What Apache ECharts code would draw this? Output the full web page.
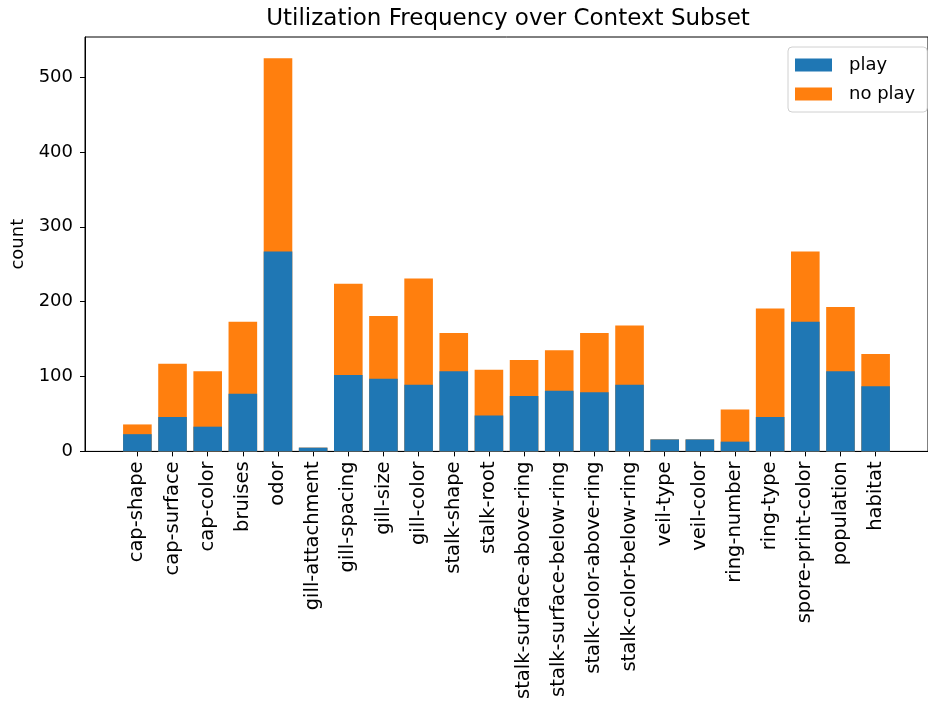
<!DOCTYPE html>
<html>
<head>
<meta charset="utf-8">
<script src="https://cdn.jsdelivr.net/npm/echarts@6/dist/echarts.min.js"></script>
<style>html,body{margin:0;padding:0;background:#fff;}#c{width:928px;height:702px;}</style>
</head>
<body>
<div id="c"></div>
<script>
var categories = ['cap-shape','cap-surface','cap-color','bruises','odor','gill-attachment','gill-spacing','gill-size','gill-color','stalk-shape','stalk-root','stalk-surface-above-ring','stalk-surface-below-ring','stalk-color-above-ring','stalk-color-below-ring','veil-type','veil-color','ring-number','ring-type','spore-print-color','population','habitat'];
var play =   [23, 46, 33, 77, 267, 5, 102, 97, 89, 107, 48, 74, 81, 79, 89, 16, 16, 13, 46, 173, 107, 87];
var noPlay = [13, 71, 74, 96, 258, 0, 122, 84, 142, 51, 61, 48, 54, 79, 79, 0, 0, 43, 145, 94, 86, 43];
var yTicks = [0, 100, 200, 300, 400, 500];

var idx = categories.map(function (c, i) { return i; });
// "no play" is stacked on top of "play": its bar spans play[i] .. play[i] + noPlay[i]
var chart = echarts.init(document.getElementById('c'));
var font = 'DejaVu Sans';
chart.setOption({
  animation: false,
  backgroundColor: '#fff',
  textStyle: { fontFamily: font, color: '#000' },
  title: {
    text: 'Utilization Frequency over Context Subset',
    left: 503, top: 3, textAlign: 'center',
    textStyle: { fontFamily: font, fontSize: 23, fontWeight: 'normal', color: '#000' }
  },
  legend: {
    orient: 'vertical', left: 788, top: 47,
    icon: 'rect',
    itemWidth: 37, itemHeight: 13, itemGap: 11,
    padding: [9, 12, 9, 7],
    borderColor: '#d0d0d0', borderWidth: 1, borderRadius: 4,
    textStyle: { fontFamily: font, fontSize: 18, color: '#000', padding: [0, 0, 0, 12] },
    data: ['play', 'no play']
  },
  grid: {
    left: 85, top: 37, width: 856, height: 415,
    show: true, borderColor: '#000', borderWidth: 1, backgroundColor: 'transparent'
  },
  xAxis: {
    type: 'value', min: -1.49, max: 22.49,
    splitLine: { show: false },
    axisLine: { onZero: false, lineStyle: { color: '#000' } },
    axisTick: { show: true, length: 5, customValues: idx, lineStyle: { color: '#000' } },
    axisLabel: {
      customValues: idx, rotate: 90, margin: 10,
      fontFamily: font, fontSize: 19.5, color: '#000',
      formatter: function (v) { return categories[Math.round(v)]; }
    }
  },
  yAxis: {
    type: 'value', min: 0, max: 553.5,
    name: 'count', nameLocation: 'middle', nameGap: 58,
    nameTextStyle: { fontFamily: font, fontSize: 18, color: '#000' },
    splitLine: { show: false },
    axisLine: { show: true, onZero: false, lineStyle: { color: '#000' } },
    axisTick: { show: true, length: 5, customValues: yTicks, lineStyle: { color: '#000' } },
    axisLabel: { customValues: yTicks, margin: 12, fontFamily: font, fontSize: 18, color: '#000' }
  },
  series: [
    {
      name: 'no play', type: 'bar', barWidth: 28.6, barGap: '-100%', z: 2,
      itemStyle: { color: '#ff7f0e' },
      data: idx.map(function (i) { return [i, play[i] + noPlay[i]]; })
    },
    {
      name: 'play', type: 'bar', barWidth: 28.6, barGap: '-100%', z: 3,
      itemStyle: { color: '#1f77b4' },
      data: idx.map(function (i) { return [i, play[i]]; })
    }
  ]
});
</script>
</body>
</html>
